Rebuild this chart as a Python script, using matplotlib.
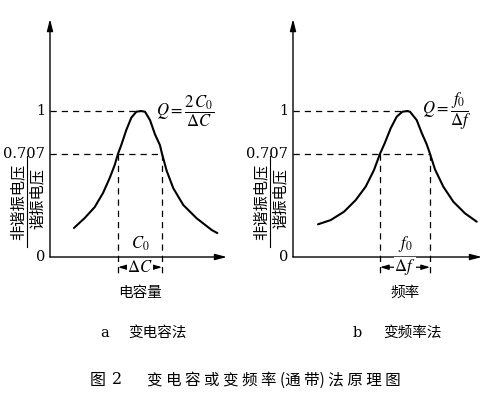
"""
Resonance curves: variable-capacitance and variable-frequency Q measurement.
"""

import matplotlib
matplotlib.use("Agg")
import matplotlib.pyplot as plt

plt.rcParams['mathtext.fontset'] = 'stix'
CJK = ['Noto Sans CJK SC', 'DejaVu Sans']
NUM = 'DejaVu Serif'

# curve a: capacitance (x in arbitrary units from the y axis), normalised voltage
cap_x = [2.4, 3.47, 4.47, 5.3, 5.97, 6.47, 6.8, 7.13, 7.63, 8.13, 8.63, 9.1,
         9.5, 10.0, 10.5, 11.0, 11.2, 11.67, 12.33, 13.33, 14.67, 16.17, 16.73]
cap_y = [0.199, 0.267, 0.342, 0.438, 0.541, 0.630, 0.707, 0.767, 0.870, 0.954, 0.995, 1.0,
         0.995, 0.938, 0.840, 0.765, 0.707, 0.590, 0.471, 0.356, 0.265, 0.185, 0.164]
cap_peak, cap_lo, cap_hi = 9.1, 6.8, 11.2

# curve b: frequency
freq_x = [2.5, 3.77, 5.1, 6.27, 7.27, 8.1, 8.7, 9.17, 9.77, 10.37, 10.93, 11.43,
          11.7, 12.37, 12.87, 13.37, 13.7, 14.2, 15.03, 16.03, 17.2, 18.37]
freq_y = [0.224, 0.253, 0.310, 0.390, 0.482, 0.596, 0.707, 0.779, 0.882, 0.961, 0.995, 1.0,
          0.995, 0.938, 0.850, 0.772, 0.707, 0.600, 0.482, 0.379, 0.299, 0.242]
freq_peak, freq_lo, freq_hi = 11.43, 8.7, 13.7

tick_vals = [0, 0.707, 1]
tick_text = ['0', '0.707', '1']
ylabel_top = '非谐振电压'
ylabel_bottom = '谐振电压'


def draw_panel(ax, x, y, peak, lo, hi, x_end, q_text, mid_text, band_text):
    ax.set_ylim(-0.35, 1.65)
    ax.axis('off')
    arrow = dict(arrowstyle='-|>,head_length=0.7,head_width=0.18', color='black',
                 lw=1.0, shrinkA=0, shrinkB=0)
    ax.annotate('', xy=(x_end, 0), xytext=(0, 0), arrowprops=arrow)
    ax.annotate('', xy=(0, 1.63), xytext=(0, 0), arrowprops=arrow)

    dash = dict(color='black', lw=0.9, linestyle=(0, (5, 4)))
    ax.plot([0, peak], [1, 1], **dash)
    ax.plot([0, hi], [0.707, 0.707], **dash)
    ax.plot([lo, lo], [0.707, -0.13], **dash)
    ax.plot([hi, hi], [0.707, -0.13], **dash)

    ax.plot(x, y, color='black', lw=1.5, solid_capstyle='round', solid_joinstyle='round')

    for v, t in zip(tick_vals, tick_text):
        ax.text(-0.5, v, t, ha='right', va='center', fontsize=10.5, family=NUM)

    # y label as a vertical fraction
    ax.text(-3.2, 0.38, ylabel_top, rotation=90, ha='center', va='center',
            fontsize=11, family=CJK)
    ax.plot([-2.3, -2.3], [0.07, 0.69], color='black', lw=0.8)
    ax.text(-1.3, 0.40, ylabel_bottom, rotation=90, ha='center', va='center',
            fontsize=11, family=CJK)

    ax.text(peak + 1.5, 1.0, q_text, ha='left', va='center', fontsize=12)
    ax.text((lo + hi) / 2, 0.09, mid_text, ha='center', va='center', fontsize=12)

    band = dict(arrowstyle='<|-|>,head_length=0.5,head_width=0.15', color='black',
                lw=0.9, shrinkA=0, shrinkB=0)
    ax.annotate('', xy=(hi, -0.07), xytext=(lo, -0.07), arrowprops=band)
    ax.text((lo + hi) / 2, -0.07, band_text, ha='center', va='center', fontsize=12,
            bbox=dict(facecolor='white', edgecolor='none', pad=0.5))


fig = plt.figure(figsize=(5.0, 3.99), dpi=100)

ax_a = fig.add_axes([0.0, 0.2278, 0.48, 0.7318])
ax_a.set_xlim(-5, 19)
draw_panel(ax_a, cap_x, cap_y, cap_peak, cap_lo, cap_hi, 17.7,
           r'$Q=\dfrac{2\,C_0}{\Delta C}$', r'$C_0$', r'$\Delta C$')

ax_b = fig.add_axes([0.486, 0.2278, 0.51, 0.7318])
ax_b.set_xlim(-5, 20.5)
draw_panel(ax_b, freq_x, freq_y, freq_peak, freq_lo, freq_hi, 18.9,
           r'$Q=\dfrac{f_0}{\Delta f}$', r'$f_0$', r'$\Delta f$')

# axis names and captions
fig.text(140 / 500, 1 - 293 / 399, '电容量', ha='center', va='center', fontsize=10.5, family=CJK)
fig.text(405 / 500, 1 - 293 / 399, '频率', ha='center', va='center', fontsize=10.5, family=CJK)
fig.text(105 / 500, 1 - 333 / 399, 'a', ha='center', va='center', fontsize=10.5, family=NUM)
fig.text(128 / 500, 1 - 333 / 399, '变电容法', ha='left', va='center', fontsize=10.5, family=CJK)
fig.text(357 / 500, 1 - 333 / 399, 'b', ha='center', va='center', fontsize=10.5, family=NUM)
fig.text(383 / 500, 1 - 333 / 399, '变频率法', ha='left', va='center', fontsize=10.5, family=CJK)
fig.text(90 / 500, 1 - 380 / 399, '图', ha='left', va='center', fontsize=11.5, family=CJK)
fig.text(112 / 500, 1 - 380 / 399, '2', ha='left', va='center', fontsize=11.5, family=NUM)
fig.text(147 / 500, 1 - 380 / 399, '变 电 容 或 变 频 率 (通 带) 法 原 理 图', ha='left', va='center',
         fontsize=11.2, family=CJK)

fig.savefig('out.png', dpi=100, facecolor='white')
